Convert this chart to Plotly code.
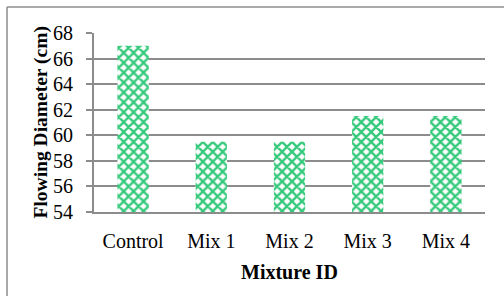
import plotly.graph_objects as go

categories = ["Control", "Mix 1", "Mix 2", "Mix 3", "Mix 4"]
values = [67, 59.5, 59.5, 61.5, 61.5]
y_ticks = [54, 56, 58, 60, 62, 64, 66, 68]

FONT = "Liberation Serif, Times New Roman, serif"
GREEN = "#33C97A"
GRID = "#8C8C8C"
PW, PH = 391, 179

fig = go.Figure()
fig.add_trace(go.Bar(
    x=categories, y=values, width=0.4,
    marker=dict(color="white", line=dict(width=0),
                pattern=dict(shape="x", fgcolor=GREEN, bgcolor="white",
                             size=7, solidity=0.55, fillmode="replace")),
))

fig.update_layout(
    width=504, height=296,
    margin=dict(l=94, r=19, t=33, b=84, autoexpand=False),
    paper_bgcolor="white", plot_bgcolor="white",
    font=dict(family=FONT, size=20, color="black"),
    showlegend=False,
    xaxis=dict(
        showline=True, linecolor=GRID, linewidth=2, automargin=False,
        showgrid=False, ticks="", tickfont=dict(size=20),
        ticklabelstandoff=10,
    ),
    yaxis=dict(
        range=[54, 68], tickvals=y_ticks, ticktext=[str(v) for v in y_ticks],
        showline=True, linecolor=GRID, linewidth=2, automargin=False,
        showgrid=True, gridcolor=GRID, gridwidth=2,
        ticks="outside", ticklen=6, tickcolor=GRID, tickwidth=2,
        tickfont=dict(size=20), zeroline=False, ticklabelstandoff=9,
    ),
    annotations=[
        dict(text="<b>Mixture ID</b>", xref="paper", yref="paper",
             x=0.5, y=(212 - 272) / PH, xanchor="center", yanchor="middle",
             showarrow=False, font=dict(size=20)),
        dict(text="<b>Flowing Diameter (cm)</b>", xref="paper", yref="paper",
             x=(40 - 94) / PW, y=0.5, xanchor="center", yanchor="middle",
             textangle=-90, showarrow=False, font=dict(size=19.5)),
    ],
    shapes=[
        dict(type="line", xref="paper", yref="paper", x0=-87/PW, x1=(504-94)/PW,
             y0=(296-84-7)/PH, y1=(296-84-7)/PH, line=dict(color=GRID, width=1.5)),
        dict(type="line", xref="paper", yref="paper", x0=-87/PW, x1=-87/PW,
             y0=(296-84-7)/PH, y1=-84/PH, line=dict(color=GRID, width=1.5)),
    ],
)

fig.write_html("out.html", config={"displayModeBar": False},
               post_script="document.body.style.margin='0px';document.body.style.overflow='hidden';")
